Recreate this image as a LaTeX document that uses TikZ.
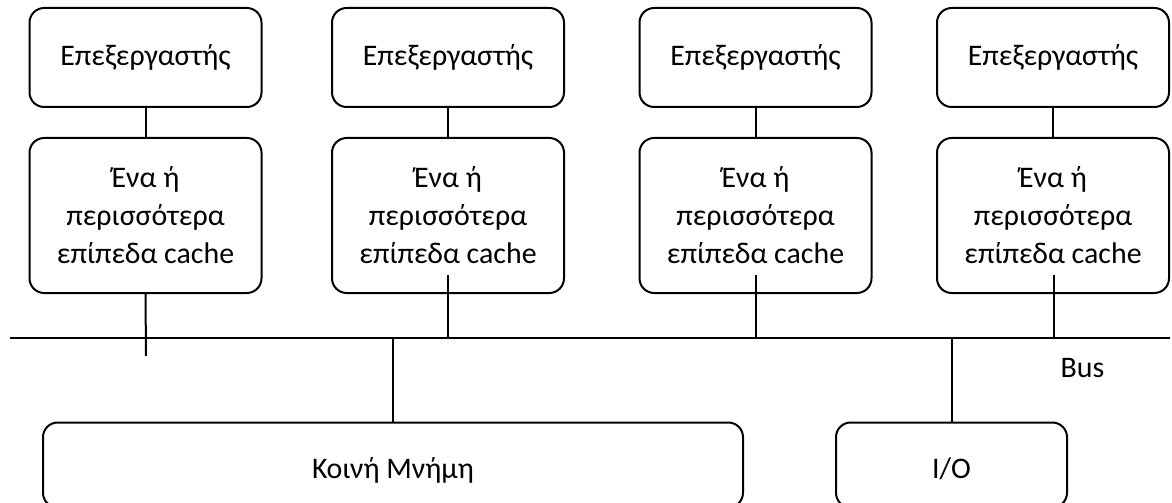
\documentclass[tikz,border=0pt]{standalone}
\usepackage{fontspec}
\setmainfont{Carlito}
\begin{document}
\begin{tikzpicture}[x=0.75pt,y=-0.75pt,
  every node/.style={font=\fontsize{22.4}{28.5}\selectfont},
  blk/.style={draw,line width=1.5pt,rounded corners=11pt,inner sep=0pt,align=center,
    minimum width=174pt},
  proc/.style={blk,minimum height=74.25pt},
  cache/.style={blk,minimum height=116.25pt},
  wire/.style={line width=1.5pt}]
\useasboundingbox (0,0) rectangle (1172,503);

% processors and their caches
\foreach \i/\cx in {1/145.5,2/448,3/755.5,4/1053}{
  \node[proc]  (p\i) at (\cx,57.5)  {Επεξεργαστής};
  \node[cache] (c\i) at (\cx,215.5) {Ένα ή\\περισσότερα\\επίπεδα cache};
  \draw[wire] (p\i.south) -- (c\i.north);
}

% system bus
\coordinate (busL) at (10,338);
\coordinate (busR) at (1170,338);
\draw[wire] (busL) -- (busR);
\node[anchor=base] (buslbl) at (1082.5,377) {Bus};

% cache-to-bus taps
\coordinate (t1) at (146,356);
\draw[wire] (c1.south) -- (t1);
\foreach \i/\cx in {2/448,3/756,4/1054}{
  \coordinate (s\i) at (\cx,275);
  \coordinate (b\i) at (\cx,338);
  \draw[wire] (s\i) -- (b\i);
}

% shared memory and I/O
\node[blk,minimum width=525pt,minimum height=63.75pt,text height=19.5pt,text depth=0pt]
  (mem) at (393,465) {Κοινή Μνήμη};
\node[blk,minimum width=173.25pt,minimum height=63.75pt,text height=19.5pt,text depth=0pt]
  (io) at (951.5,465) {I/O};
\coordinate (bm) at (393,338);
\coordinate (bi) at (951.5,338);
\draw[wire] (bm) -- (mem.north);
\draw[wire] (bi) -- (io.north);
\end{tikzpicture}
\end{document}
